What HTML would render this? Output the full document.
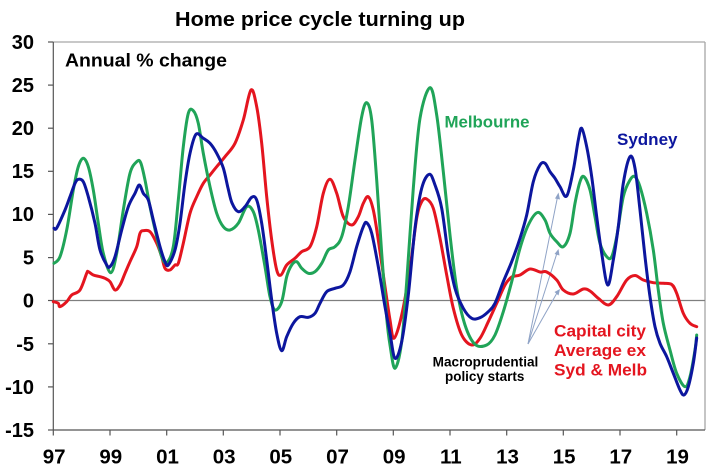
<!DOCTYPE html>
<html>
<head>
<meta charset="utf-8">
<style>
  html, body { margin:0; padding:0; background:#ffffff; }
  body { width:720px; height:470px; overflow:hidden; }
  svg { display:block; }
  text { font-family: "Liberation Sans", Arial, sans-serif; font-weight:bold; }
</style>
</head>
<body>
<svg id="chart" width="720" height="470" viewBox="0 0 720 470" xmlns="http://www.w3.org/2000/svg">
  <rect width="720" height="470" fill="#ffffff"/>

  <!-- Title -->
  <text x="175" y="26" font-size="20.5" fill="#000" textLength="290" lengthAdjust="spacingAndGlyphs">Home price cycle turning up</text>

  <!-- Plot frame -->
  <line x1="53.3" y1="42" x2="705" y2="42" stroke="#a6a6a6" stroke-width="1.3"/>
  <line x1="705" y1="42" x2="705" y2="430" stroke="#a6a6a6" stroke-width="1.3"/>
  <line x1="53.3" y1="42" x2="53.3" y2="430" stroke="#555" stroke-width="1.2"/>
  <line x1="53.3" y1="430" x2="705" y2="430" stroke="#555" stroke-width="1.2"/>

  <!-- zero line -->
  <line x1="53.3" y1="300.5" x2="705" y2="300.5" stroke="#7f7f7f" stroke-width="1.2"/>

  <!-- Y ticks -->
  <g stroke="#555" stroke-width="1.2">
    <line x1="48" y1="42" x2="53.3" y2="42"/>
    <line x1="48" y1="85.1" x2="53.3" y2="85.1"/>
    <line x1="48" y1="128.2" x2="53.3" y2="128.2"/>
    <line x1="48" y1="171.3" x2="53.3" y2="171.3"/>
    <line x1="48" y1="214.4" x2="53.3" y2="214.4"/>
    <line x1="48" y1="257.6" x2="53.3" y2="257.6"/>
    <line x1="48" y1="300.5" x2="53.3" y2="300.5"/>
    <line x1="48" y1="343.8" x2="53.3" y2="343.8"/>
    <line x1="48" y1="386.9" x2="53.3" y2="386.9"/>
    <line x1="48" y1="430" x2="53.3" y2="430"/>
  </g>
  <!-- Y labels -->
  <g font-size="20" fill="#000" text-anchor="end">
    <text x="34" y="49">30</text>
    <text x="34" y="92">25</text>
    <text x="34" y="135">20</text>
    <text x="34" y="178">15</text>
    <text x="34" y="221">10</text>
    <text x="34" y="264.5">5</text>
    <text x="34" y="307.5">0</text>
    <text x="34" y="351">-5</text>
    <text x="34" y="394">-10</text>
    <text x="34" y="437">-15</text>
  </g>

  <!-- X ticks -->
  <g stroke="#555" stroke-width="1.2">
    <line x1="53.3" y1="430" x2="53.3" y2="435.5"/>
    <line x1="110" y1="430" x2="110" y2="435.5"/>
    <line x1="166.7" y1="430" x2="166.7" y2="435.5"/>
    <line x1="223.3" y1="430" x2="223.3" y2="435.5"/>
    <line x1="280" y1="430" x2="280" y2="435.5"/>
    <line x1="336.7" y1="430" x2="336.7" y2="435.5"/>
    <line x1="393.3" y1="430" x2="393.3" y2="435.5"/>
    <line x1="450" y1="430" x2="450" y2="435.5"/>
    <line x1="506.7" y1="430" x2="506.7" y2="435.5"/>
    <line x1="563.3" y1="430" x2="563.3" y2="435.5"/>
    <line x1="620" y1="430" x2="620" y2="435.5"/>
    <line x1="676.7" y1="430" x2="676.7" y2="435.5"/>
  </g>
  <!-- X labels -->
  <g font-size="20.5" fill="#000" text-anchor="middle">
    <text x="54.2" y="463.5">97</text>
    <text x="110.8" y="463.5">99</text>
    <text x="167.5" y="463.5">01</text>
    <text x="224.2" y="463.5">03</text>
    <text x="280.8" y="463.5">05</text>
    <text x="337.5" y="463.5">07</text>
    <text x="394.2" y="463.5">09</text>
    <text x="450.8" y="463.5">11</text>
    <text x="507.5" y="463.5">13</text>
    <text x="564.2" y="463.5">15</text>
    <text x="620.8" y="463.5">17</text>
    <text x="677.5" y="463.5">19</text>
  </g>

  <!-- Annotation arrows -->
  <g stroke="#8fa3c6" stroke-width="1" fill="none">
    <line x1="528" y1="344" x2="557.5" y2="197"/>
    <line x1="528" y1="344" x2="557" y2="253"/>
    <line x1="528" y1="344" x2="557.5" y2="292"/>
  </g>
  <g fill="#8fa3c6">
    <polygon points="558.5,192.5 555,198.5 560,199.5"/>
    <polygon points="558.5,249 554.5,254 559.5,255.5"/>
    <polygon points="560,289 554.5,292 558.5,295.5"/>
  </g>

  <!-- Series -->
  <g id="series" fill="none" stroke-width="3" stroke-linejoin="round" stroke-linecap="round">
    <!-- Red: capital city avg ex Syd & Melb -->
    <polyline stroke="#e4151f" points="53.3,301.7 58.3,303.3 60,306.7 66.7,301.7 71.7,295 80,290 86.7,273.3 88.3,271.7 93.3,275 100,276.7 105,278.3 110,281.7 115,290 120,285 125,273.3 130,261.7 136.7,246.7 140,233.3 143.3,230.7 150,231.7 156.7,243.3 161.7,256.7 165,268.3 170,270 175,265 178.3,263.3 183.3,243.3 190,213.3 196.7,196.7 203.3,183.3 210,175 216.7,166.7 225,156.7 235,143.3 243.3,120 251,90 256.7,106.7 261.7,143.3 266.7,196.7 271.7,240 276.7,270 281,275 286.7,265 295,258.3 301.7,251.7 310,246.7 316.7,226.7 323.3,193.3 330,179.3 336.7,193.3 343.3,216.7 351.7,225 358.3,216.7 363.3,203.3 368.3,196.7 373.3,210 378.3,240 385,286.7 390,320 394,338.3 401.7,315 410,268.3 416.7,218.3 421.7,201.7 426.7,199 433.3,208.3 440,238.3 446.7,275 453.3,308.3 461.7,335 471.7,345 480,338.3 488.3,321.7 496.7,303.3 505,285 511.7,277 520,275 530,269 540,272 546.7,272 556.7,280 563.3,290 573.3,294 583.3,289 590,291 598.3,298.3 608.3,305 616.7,296.7 626.7,280 635,275.5 643.3,280 653.3,282.7 663.3,283.3 671.7,284.5 676.7,293.3 683.3,313.3 690,323.3 696.7,326.7"/>
    <!-- Green: Melbourne -->
    <polyline stroke="#20a458" points="54,263.3 60,256.7 66.7,230 73.3,190 78.3,166.7 83.3,158.3 88.3,166.7 93.3,190 98.3,223.3 103.3,253.3 110.7,272.7 116.7,253.3 123.3,210 130,173.3 136.7,161.7 140.7,162.7 145,180 150,206.7 156.7,236.7 161.7,256.7 166.7,262.7 173.3,246.7 178.3,200 183.3,146.7 188.3,113.3 193.3,110.7 198.3,123.3 203.3,153.3 210,186.7 216.7,213.3 223.3,226.7 230,230 238.3,223.3 246.7,206.7 253.3,211.7 258.3,230 265,266.7 270,296.7 275,310 281.7,301.7 286.7,276.7 291.7,265 296.7,261.7 301.7,268.3 308.3,273.3 315,271.7 321.7,263.3 328.3,250 335,246.7 341.7,236.7 348.3,206.7 355,160 361.7,116.7 366.7,102.7 371.7,120 376.7,180 381.7,253.3 386.7,318 390,345 395,368.3 401.7,341.7 406.7,281.7 413.3,188.3 420,118.3 430,87.7 436.7,115 443.3,171.7 450,235 456.7,288.3 465,325 475,344.3 486.7,345 495,335 503.3,311.7 511.7,281.7 520,248.3 528.3,225 537.5,212.5 545,220 550,233.3 556.7,241.7 563.3,246.7 570,233.3 575,203.3 580,181.7 584,176.7 590,190 595,216.7 600,243.3 606.7,256.7 611.7,256.7 616.7,236.7 623.3,196.7 630,180 635,176.7 640,186.7 646.7,213.3 653.3,250 658.3,290 663.3,323.3 670,350 676.7,373.3 685,386.7 690,376.7 695,350 696.7,335"/>
    <!-- Blue: Sydney -->
    <polyline stroke="#0c169e" points="54,228.3 56.7,228 65,210 70,196.7 75,183.3 78.3,179.3 83.3,181.7 88.3,196.7 95,223.3 100,250 106.7,265 110,266.7 115,256.7 121.7,230 128.3,206.7 135,193.3 139.3,185 143.3,193.3 148.3,200 153.3,220 160,246.7 165,261.7 168.3,265 175,250 180,223.3 185,183.3 190,153.3 196,134.3 203.3,138.3 210,143.3 216.7,153.3 223.3,168 228,188 232,203 238.3,211.7 245,206.7 251.7,197.3 256.7,200 261.7,223.3 266.7,260 271.7,300 276.7,333.3 281.7,350.7 286.7,336.7 293.3,323.3 300,316.7 308.3,317.3 315,313.3 320,303.3 326.7,291.7 335,288.3 343.3,285 350,271.7 356.7,246.7 363.3,226.7 366.7,222.7 371.7,233.3 378.3,266.7 385,306.7 390,333.3 395,358.3 401.7,341.7 408.3,295 415,228.3 421.7,188.3 429.3,174.3 435,185 441.7,208.3 448.3,255 455,288.3 463.3,308.3 471.7,318.3 480,317.7 488.3,311.7 495,303.3 503.3,281.7 511.7,261.7 520,238.3 526.7,215 533.3,181.7 540,165 545,163.3 550,171.7 555,178.3 560,186.7 566.7,196 573.3,170 578.3,140 581.7,128.3 586.7,146.7 591.7,176.7 596.7,216.7 601.7,253.3 607.7,285 613.3,260 618.3,226.7 623.3,183.3 630,156.7 635,168.3 640,210 645,256.7 650,296.7 655,326.7 660,343.3 666.7,356.7 673.3,373.3 680,390 684,395 688.3,386.7 693.3,363.3 696.7,338"/>
  </g>

  <!-- Labels -->
  <text x="65" y="66.7" font-size="18" fill="#000" textLength="162" lengthAdjust="spacingAndGlyphs">Annual % change</text>
  <text x="444.5" y="127.5" font-size="17" fill="#20a458" textLength="85" lengthAdjust="spacingAndGlyphs">Melbourne</text>
  <text x="617" y="145" font-size="17" fill="#0c169e" textLength="60.5" lengthAdjust="spacingAndGlyphs">Sydney</text>
  <text x="554" y="336.7" font-size="17" fill="#e4151f" textLength="92" lengthAdjust="spacingAndGlyphs">Capital city</text>
  <text x="554" y="356" font-size="17" fill="#e4151f" textLength="92" lengthAdjust="spacingAndGlyphs">Average ex</text>
  <text x="554" y="375.7" font-size="17" fill="#e4151f" textLength="93" lengthAdjust="spacingAndGlyphs">Syd &amp; Melb</text>
  <text x="432.7" y="366.7" font-size="13.5" fill="#000" textLength="105.6" lengthAdjust="spacingAndGlyphs">Macroprudential</text>
  <text x="445" y="380.8" font-size="13.5" fill="#000" textLength="79.3" lengthAdjust="spacingAndGlyphs">policy starts</text>
</svg>
<script>
(function(){
  var NS = "http://www.w3.org/2000/svg";
  var g = document.getElementById("series");
  if (!g) return;
  var pls = g.querySelectorAll("polyline");
  for (var k = 0; k < pls.length; k++) {
    var pl = pls[k];
    var raw = pl.getAttribute("points").trim().split(/\s+/);
    var p = raw.map(function(s){ var a = s.split(","); return [parseFloat(a[0]), parseFloat(a[1])]; });
    if (p.length < 3) continue;
    var d = "M" + p[0][0] + "," + p[0][1];
    for (var i = 0; i < p.length - 1; i++) {
      var p0 = p[i > 0 ? i - 1 : i], p1 = p[i], p2 = p[i + 1], p3 = p[i + 2 < p.length ? i + 2 : i + 1];
      var c1x = p1[0] + (p2[0] - p0[0]) / 6, c1y = p1[1] + (p2[1] - p0[1]) / 6;
      var c2x = p2[0] - (p3[0] - p1[0]) / 6, c2y = p2[1] - (p3[1] - p1[1]) / 6;
      d += " C" + c1x.toFixed(2) + "," + c1y.toFixed(2) + " " + c2x.toFixed(2) + "," + c2y.toFixed(2) + " " + p2[0] + "," + p2[1];
    }
    var path = document.createElementNS(NS, "path");
    path.setAttribute("d", d);
    path.setAttribute("stroke", pl.getAttribute("stroke"));
    g.replaceChild(path, pl);
  }
})();
</script>
</body>
</html>
